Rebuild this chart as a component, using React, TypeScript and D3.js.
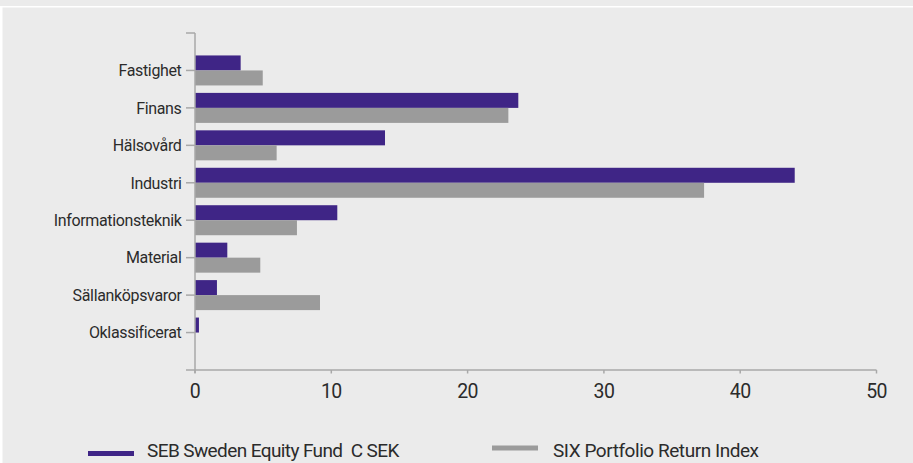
import React from "react";
import * as d3 from "d3";

const categories = ["Fastighet", "Finans", "Hälsovård", "Industri", "Informationsteknik", "Material", "Sällanköpsvaror", "Oklassificerat"];
const fundValues = [3.35, 23.72, 13.94, 44.0, 10.44, 2.37, 1.61, 0.29];
const indexValues = [4.97, 22.99, 5.99, 37.35, 7.48, 4.79, 9.17, 0];
const xTicks = [0, 10, 20, 30, 40, 50];
const seriesNames = ["SEB Sweden Equity Fund  C SEK", "SIX Portfolio Return Index"];

const W = 913;
const H = 463;
const PURPLE = "#3f2586";
const GRAY = "#9b9b9b";
const AXIS = "#a8a8a8";
const TEXT = "#2b2b2b";
const FONT = "Roboto, 'Noto Sans', sans-serif";

export default function App() {
  const x = d3.scaleLinear().domain([0, 50]).range([195, 876.5]);
  const y = d3.scalePoint<string>().domain(categories).range([33, 370]).padding(1);
  const barH = 15;
  const yTop = 33;
  const yBot = 370;

  return (
    <svg width={W} height={H} style={{ position: "absolute", left: 0, top: 0 }} fontFamily={FONT}>
      <rect x={0} y={0} width={W} height={H} fill="#ebebeb" />
      <rect x={0} y={6} width={W} height={1.5} fill="#ffffff" />
      <rect x={0} y={7} width={2.5} height={H - 7} fill="#ffffff" />

      {categories.map((c, i) => {
        const cy = y(c)!;
        return (
          <g key={c}>
            <rect x={x(0)} y={cy - barH} width={x(fundValues[i]) - x(0)} height={barH} fill={PURPLE} />
            {indexValues[i] > 0 && (
              <rect x={x(0)} y={cy} width={x(indexValues[i]) - x(0)} height={barH} fill={GRAY} />
            )}
            <line x1={186} x2={195} y1={cy} y2={cy} stroke={AXIS} strokeWidth={1.5} />
            <text x={181.5} y={cy} dy="0.36em" textAnchor="end" fontSize={16} fill={TEXT} letterSpacing={-0.35}>
              {c}
            </text>
          </g>
        );
      })}

      {/* category axis */}
      <line x1={x(0)} x2={x(0)} y1={yTop} y2={yBot + 3} stroke={AXIS} strokeWidth={1.5} />
      <line x1={186} x2={195} y1={yTop} y2={yTop} stroke={AXIS} strokeWidth={1.5} />
      {/* value axis */}
      <line x1={186} x2={x(50)} y1={yBot} y2={yBot} stroke={AXIS} strokeWidth={1.5} />
      {xTicks.map((t) => (
        <g key={t}>
          <line x1={x(t)} x2={x(t)} y1={yBot} y2={yBot + 3.5} stroke={AXIS} strokeWidth={1.5} />
          <text x={x(t)} y={398.3} textAnchor="middle" fontSize={19.5} fill={TEXT} letterSpacing={-0.6}>
            {t}
          </text>
        </g>
      ))}

      {/* legend */}
      <line x1={88} x2={134} y1={453.5} y2={453.5} stroke={PURPLE} strokeWidth={5} />
      <text x={147} y={456.5} fontSize={19} fill={TEXT} letterSpacing={-0.6} style={{ whiteSpace: "pre" }}>
        {seriesNames[0]}
      </text>
      <line x1={492} x2={538} y1={448} y2={448} stroke={GRAY} strokeWidth={5} />
      <text x={553} y={456.5} fontSize={19} fill={TEXT} letterSpacing={-0.45} style={{ whiteSpace: "pre" }}>
        {seriesNames[1]}
      </text>
    </svg>
  );
}
